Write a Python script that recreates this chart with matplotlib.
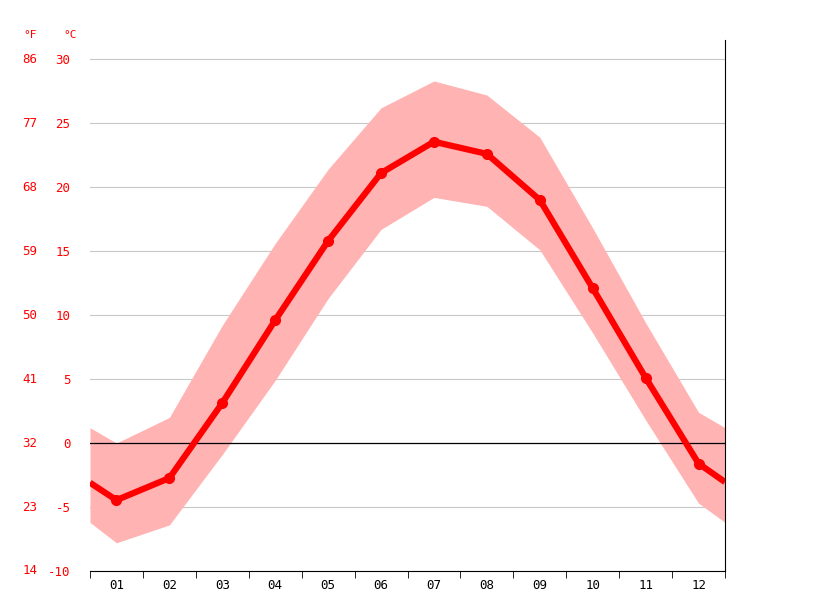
import numpy as np
import matplotlib.pyplot as plt
from matplotlib.transforms import blended_transform_factory

# month positions incl. the wrapped half-month edges
months = [0.5, 1, 2, 3, 4, 5, 6, 7, 8, 9, 10, 11, 12, 12.5]
month_labels = ["01", "02", "03", "04", "05", "06", "07", "08", "09", "10", "11", "12"]
t_mean = [-3.1, -4.46, -2.74, 3.13, 9.6, 15.8, 21.1, 23.55, 22.6, 19.0, 12.1, 5.1, -1.6, -3.05]
t_max = [1.2, 0.0, 2.0, 9.2, 15.6, 21.4, 26.2, 28.3, 27.2, 23.9, 16.8, 9.4, 2.4, 1.2]
t_min = [-6.2, -7.8, -6.4, -0.9, 4.9, 11.3, 16.7, 19.2, 18.5, 15.1, 8.6, 1.8, -4.7, -6.2]
c_ticks = [-10, -5, 0, 5, 10, 15, 20, 25, 30]
f_ticks = [14, 23, 32, 41, 50, 59, 68, 77, 86]

red = "#ff0000"
fig = plt.figure(figsize=(8.15, 6.11), dpi=100)
ax = fig.add_axes([0.1104, 0.0655, 0.7792, 0.869])

ax.fill_between(months, t_min, t_max, color="#ffb3b3", lw=0, zorder=1)
ax.plot(months, t_mean, color=red, lw=4.5, zorder=3, solid_capstyle="butt")
ax.plot(months[1:-1], t_mean[1:-1], "o", color=red, ms=7, zorder=4)

for c in c_ticks:
    if c != 0:
        ax.axhline(c, color="#c8c8c8", lw=0.8, zorder=0)
ax.axhline(0, color="black", lw=0.9, zorder=2)

ax.set_xlim(0.5, 12.5)
ax.set_ylim(-10, 31.5)
ax.set_xticks(range(1, 13))
ax.set_xticklabels(month_labels, family="DejaVu Sans Mono", fontsize=9)
ax.set_xticks(np.arange(0.5, 13, 1), minor=True)
ax.tick_params(axis="x", which="major", length=0, pad=6)
ax.tick_params(axis="x", which="minor", length=5, color="black")
ax.set_yticks(c_ticks)
ax.set_yticklabels([str(c) for c in c_ticks], family="DejaVu Sans Mono", fontsize=9, color=red)
ax.tick_params(axis="y", length=0, pad=14)

for s in ["left", "top"]:
    ax.spines[s].set_visible(False)
ax.spines["right"].set_color("black")
ax.spines["bottom"].set_color("black")

tr = blended_transform_factory(fig.transFigure, ax.transData)
for c, f in zip(c_ticks, f_ticks):
    ax.text(30 / 815, c, str(f), transform=tr, ha="center", va="center",
            family="DejaVu Sans Mono", fontsize=9, color=red)
fig.text(30 / 815, 1 - 35 / 611, "°F", ha="center", va="center",
         family="DejaVu Sans Mono", fontsize=8, color=red)
fig.text(70 / 815, 1 - 35 / 611, "°C", ha="center", va="center",
         family="DejaVu Sans Mono", fontsize=8, color=red)

fig.savefig("out.png", dpi=100)
